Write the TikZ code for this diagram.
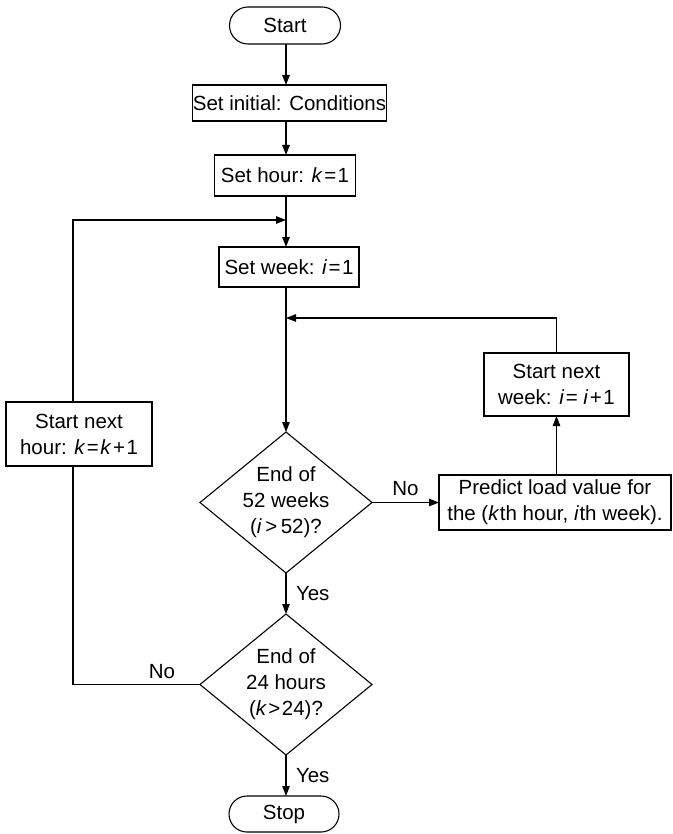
\documentclass[tikz,border=0pt]{standalone}
\usepackage{fontspec}
\setmainfont{Liberation Sans}
\usetikzlibrary{arrows.meta,shapes.geometric,shapes.misc}
\begin{document}
\begin{tikzpicture}[x=1pt,y=-1pt,
  font=\fontsize{20.5}{26}\selectfont,
  every node/.style={inner sep=0pt, outer sep=0pt},
  line width=1.1pt,
  arr/.style={-{Triangle[length=10pt,width=7.5pt]}},
  term/.style={draw, rounded rectangle},
  proc/.style={draw, rectangle, align=center},
  decision/.style={draw, diamond},
  dtext/.style={align=center},
  lbl/.style={}
]
\useasboundingbox (0,0) rectangle (672,834);

\node[term, minimum width=111pt, minimum height=37pt] (start) at (285,25.5) {Start};
\node[proc, minimum width=193pt, minimum height=36pt] (init) at (289.5,103) {Set initial: Conditions};
\node[proc, minimum width=141pt, minimum height=41pt] (hour) at (285,175.5) {Set hour: \textit{k}\kern1.5pt=\kern1.5pt1};
\coordinate (m0) at (286,220);
\node[proc, minimum width=140pt, minimum height=40pt] (week) at (289,267) {Set week: \textit{i}\kern1.5pt=\kern1.5pt1};
\coordinate (m1) at (286,318);
\node[proc, minimum width=145pt, minimum height=63pt] (nextweek) at (556.5,384.5) {Start next\\week: \textit{i}\kern1.5pt=\ \textit{i}\kern1.5pt+\kern1.5pt1};
\node[decision, minimum width=172pt, minimum height=141pt,
  label={[dtext]center:{End of\\52 weeks\\(\textit{i}\,>\,52)?}}] (d1) at (286,502.5) {};
\node[proc, minimum width=232pt, minimum height=55pt] (predict) at (555,502.5) {Predict load value for\\the (\textit{k}\kern0.5pt th hour, \textit{i}\kern0.5pt th week).};
\node[decision, minimum width=172pt, minimum height=141pt,
  label={[dtext]center:{End of\\24 hours\\(\textit{k}\kern1.5pt>\kern1.5pt24)?}}] (d2) at (286,684.5) {};
\node[term, minimum width=110pt, minimum height=36pt] (stop) at (284,814) {Stop};
\node[proc, minimum width=146pt, minimum height=64pt] (nexthour) at (79,434) {Start next\\hour: \textit{k}\kern1.5pt=\kern1.5pt\textit{k}\kern1.5pt+\kern1.5pt1};
\coordinate (lx) at (73,434);

\draw[arr] (start.south -| m0) -- (init.north -| m0);
\draw[arr] (init.south -| m0) -- (hour.north -| m0);
\draw[arr] (hour.south -| m0) -- (week.north -| m0);
\draw[arr] (week.south -| m0) -- (d1.north);
\draw[arr] (nextweek.north) |- (m1);
\draw[arr] (d1.east) -- node[lbl, above=7pt] {No} (predict.west);
\draw[arr] (predict.north -| nextweek.south) -- (nextweek.south);
\draw[arr] (d1.south) -- node[lbl, right=10pt] {Yes} (d2.north);
\draw[arr] (d2.south) -- node[lbl, right=10pt] {Yes} (d2.south |- stop.north);
\draw (d2.west) -- node[lbl, pos=0.3, above=6pt] {No} (d2.west -| lx) -- (nexthour.south -| lx);
\draw[arr] (nexthour.north -| lx) |- (m0);
\end{tikzpicture}
\end{document}
